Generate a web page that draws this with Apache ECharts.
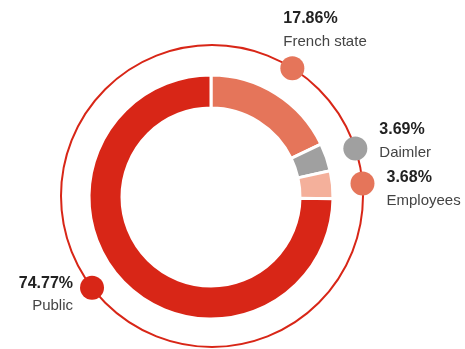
<!DOCTYPE html>
<html><head><meta charset="utf-8">
<script src="https://cdn.jsdelivr.net/npm/echarts@6/dist/echarts.min.js"></script>
<style>html,body{margin:0;padding:0;background:#fff}#c{width:465px;height:349px}</style>
</head><body><div id="c"></div>
<script>
const categories = ['French state', 'Daimler', 'Employees', 'Public'];
const shares = [17.86, 3.69, 3.68, 74.77];
const shareLabels = ['17.86%', '3.69%', '3.68%', '74.77%'];

const sliceColors = ['#e5755a', '#a0a0a0', '#f4b09b', '#d82617'];
const dotColors = ['#e5755a', '#a0a0a0', '#e5755a', '#d82617'];
// small visual shift of the marker along the ring (percent of circle)
const dotShift = [0, 0.2, 0.3, 2.0];
const labelPlacement = [
  { position: [3, -49], align: 'left' },
  { position: [36, -18], align: 'left' },
  { position: [36, -5], align: 'left' },
  { position: [-7, -4], align: 'right' }
];
const FONT = '"Liberation Sans Narrow", "Arial Narrow", "Liberation Sans", Arial, sans-serif';

const total = shares.reduce((a, b) => a + b, 0);
let acc = 0;
const dotData = shares.map((v, i) => {
  const mid = acc + v / 2;
  acc += v;
  const al = labelPlacement[i].align;
  return {
    value: [1, mid / total * 100 + dotShift[i]],
    name: categories[i],
    itemStyle: { color: dotColors[i], opacity: 1 },
    label: {
      show: true,
      position: labelPlacement[i].position,
      align: al,
      verticalAlign: 'top',
      formatter: '{b|' + shareLabels[i] + '}\n{n|' + categories[i] + '}',
      rich: {
        b: { fontFamily: FONT, fontWeight: 'bold', fontSize: 16, lineHeight: 23, color: '#222222', align: al },
        n: { fontFamily: FONT, fontSize: 15, lineHeight: 23, color: '#444444', align: al }
      }
    }
  };
});

const chart = echarts.init(document.getElementById('c'), null, { renderer: 'canvas' });
chart.setOption({
  animation: false,
  backgroundColor: '#fff',
  polar: { center: [212, 196], radius: 151 },
  angleAxis: {
    type: 'value', min: 0, max: 100, startAngle: 90, clockwise: true,
    axisLine: { show: true, lineStyle: { color: '#d82617', width: 2 } },
    axisTick: { show: false }, axisLabel: { show: false }, splitLine: { show: false }
  },
  radiusAxis: {
    type: 'value', min: 0, max: 1, show: false,
    axisLine: { show: false }, axisTick: { show: false }, axisLabel: { show: false }, splitLine: { show: false }
  },
  series: [
    {
      type: 'pie',
      center: [211, 197],
      radius: [89, 122],
      startAngle: 90,
      clockwise: true,
      silent: true,
      label: { show: false },
      labelLine: { show: false },
      itemStyle: { borderColor: '#fff', borderWidth: 3 },
      data: shares.map((v, i) => ({ value: v, name: categories[i], itemStyle: { color: sliceColors[i] } }))
    },
    {
      type: 'scatter',
      coordinateSystem: 'polar',
      symbol: 'circle',
      symbolSize: 24,
      silent: true,
      z: 5,
      itemStyle: { opacity: 1 },
      data: dotData
    }
  ]
});
</script>
</body></html>
